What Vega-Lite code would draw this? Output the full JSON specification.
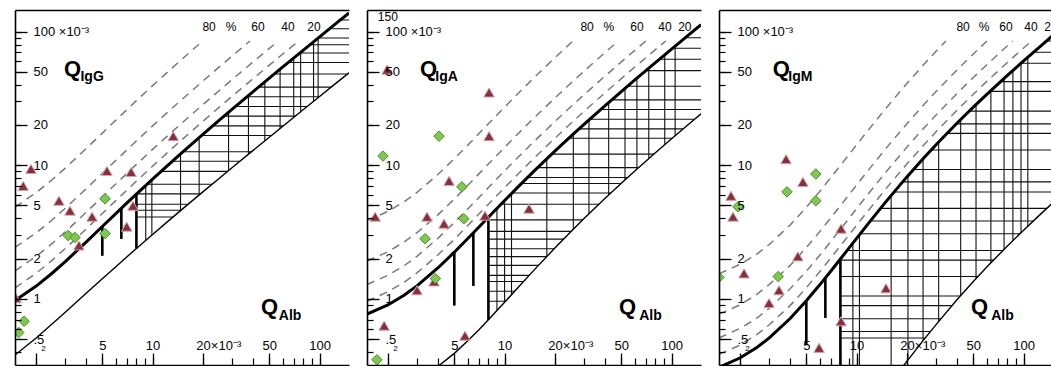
{
"$schema": "https://vega.github.io/schema/vega-lite/v6.json",
"padding": {"left": 14, "top": 10, "right": 0, "bottom": 0},
"spacing": 18,
"bounds": "flush",
"config": {"view": {"stroke": null}, "text": {"font": "Liberation Sans"}},
"datasets": {
"curves": [
{"p":"G","q":1.5,"U":0.971,"L":0.38},{"p":"G","q":2,"U":1.241,"L":0.508},{"p":"G","q":2.5,"U":1.555,"L":0.648},{"p":"G","q":3,"U":1.902,"L":0.794},{"p":"G","q":4,"U":2.662,"L":1.1},{"p":"G","q":5,"U":3.478,"L":1.415},{"p":"G","q":6,"U":4.327,"L":1.734},{"p":"G","q":7,"U":5.197,"L":2.057},{"p":"G","q":8,"U":6.081,"L":2.381},{"p":"G","q":10,"U":7.875,"L":3.033},{"p":"G","q":12,"U":9.69,"L":3.687},{"p":"G","q":15,"U":12.435,"L":4.672},{"p":"G","q":20,"U":17.039,"L":6.317},{"p":"G","q":25,"U":21.661,"L":7.963},{"p":"G","q":30,"U":26.293,"L":9.611},{"p":"G","q":40,"U":35.57,"L":12.908},{"p":"G","q":50,"U":44.856,"L":16.207},{"p":"G","q":60,"U":54.147,"L":19.505},{"p":"G","q":80,"U":72.735,"L":26.104},{"p":"G","q":100,"U":91.33,"L":32.703},{"p":"G","q":125,"U":114.57,"L":40.953},{"p":"G","q":150,"U":137.82,"L":49.202},
{"p":"A","q":1.5,"U":0.769,"L":0.184},{"p":"A","q":2,"U":0.901,"L":0.201},{"p":"A","q":2.5,"U":1.064,"L":0.223},{"p":"A","q":3,"U":1.256,"L":0.249},{"p":"A","q":4,"U":1.709,"L":0.313},{"p":"A","q":5,"U":2.235,"L":0.391},{"p":"A","q":6,"U":2.814,"L":0.483},{"p":"A","q":7,"U":3.434,"L":0.585},{"p":"A","q":8,"U":4.082,"L":0.697},{"p":"A","q":10,"U":5.44,"L":0.942},{"p":"A","q":12,"U":6.851,"L":1.21},{"p":"A","q":15,"U":9.026,"L":1.64},{"p":"A","q":20,"U":12.737,"L":2.401},{"p":"A","q":25,"U":16.501,"L":3.195},{"p":"A","q":30,"U":20.293,"L":4.006},{"p":"A","q":40,"U":27.921,"L":5.655},{"p":"A","q":50,"U":35.577,"L":7.325},{"p":"A","q":60,"U":43.247,"L":9.004},{"p":"A","q":80,"U":58.611,"L":12.378},{"p":"A","q":100,"U":73.989,"L":15.763},{"p":"A","q":125,"U":93.221,"L":20.0},{"p":"A","q":150,"U":112.459,"L":24.242},
{"p":"M","q":1.5,"U":0.308,"L":0.023},{"p":"M","q":2,"U":0.361,"L":0.025},{"p":"M","q":2.5,"U":0.428,"L":0.027},{"p":"M","q":3,"U":0.51,"L":0.03},{"p":"M","q":4,"U":0.713,"L":0.036},{"p":"M","q":5,"U":0.968,"L":0.044},{"p":"M","q":6,"U":1.268,"L":0.055},{"p":"M","q":7,"U":1.61,"L":0.066},{"p":"M","q":8,"U":1.988,"L":0.08},{"p":"M","q":10,"U":2.838,"L":0.111},{"p":"M","q":12,"U":3.786,"L":0.148},{"p":"M","q":15,"U":5.345,"L":0.213},{"p":"M","q":20,"U":8.178,"L":0.341},{"p":"M","q":25,"U":11.187,"L":0.487},{"p":"M","q":30,"U":14.298,"L":0.645},{"p":"M","q":40,"U":20.687,"L":0.988},{"p":"M","q":50,"U":27.195,"L":1.35},{"p":"M","q":60,"U":33.765,"L":1.723},{"p":"M","q":80,"U":47.0,"L":2.489},{"p":"M","q":100,"U":60.301,"L":3.267},{"p":"M","q":125,"U":76.971,"L":4.25},{"p":"M","q":150,"U":93.667,"L":5.239}
],
"dashes": [
{"p":"G","pct":80,"q":1.5,"Q":4.86},{"p":"G","pct":80,"q":2,"Q":6.21},{"p":"G","pct":80,"q":2.5,"Q":7.78},{"p":"G","pct":80,"q":3,"Q":9.51},{"p":"G","pct":80,"q":4,"Q":13.31},{"p":"G","pct":80,"q":5,"Q":17.39},{"p":"G","pct":80,"q":6,"Q":21.64},{"p":"G","pct":80,"q":8,"Q":30.41},{"p":"G","pct":80,"q":10,"Q":39.38},{"p":"G","pct":80,"q":12,"Q":48.45},{"p":"G","pct":80,"q":15,"Q":62.18},{"p":"G","pct":80,"q":20,"Q":85.2},
{"p":"G","pct":60,"q":1.5,"Q":2.43},{"p":"G","pct":60,"q":2,"Q":3.1},{"p":"G","pct":60,"q":2.5,"Q":3.89},{"p":"G","pct":60,"q":3,"Q":4.76},{"p":"G","pct":60,"q":4,"Q":6.66},{"p":"G","pct":60,"q":5,"Q":8.7},{"p":"G","pct":60,"q":6,"Q":10.82},{"p":"G","pct":60,"q":8,"Q":15.2},{"p":"G","pct":60,"q":10,"Q":19.69},{"p":"G","pct":60,"q":12,"Q":24.23},{"p":"G","pct":60,"q":15,"Q":31.09},{"p":"G","pct":60,"q":20,"Q":42.6},{"p":"G","pct":60,"q":25,"Q":54.15},{"p":"G","pct":60,"q":30,"Q":65.73},{"p":"G","pct":60,"q":38.3,"Q":85},
{"p":"G","pct":40,"q":1.5,"Q":1.62},{"p":"G","pct":40,"q":2,"Q":2.07},{"p":"G","pct":40,"q":2.5,"Q":2.59},{"p":"G","pct":40,"q":3,"Q":3.17},{"p":"G","pct":40,"q":4,"Q":4.44},{"p":"G","pct":40,"q":5,"Q":5.8},{"p":"G","pct":40,"q":6,"Q":7.21},{"p":"G","pct":40,"q":8,"Q":10.14},{"p":"G","pct":40,"q":10,"Q":13.13},{"p":"G","pct":40,"q":12,"Q":16.15},{"p":"G","pct":40,"q":15,"Q":20.73},{"p":"G","pct":40,"q":20,"Q":28.4},{"p":"G","pct":40,"q":25,"Q":36.1},{"p":"G","pct":40,"q":30,"Q":43.82},{"p":"G","pct":40,"q":40,"Q":59.28},{"p":"G","pct":40,"q":50,"Q":74.76},{"p":"G","pct":40,"q":56.6,"Q":85},
{"p":"G","pct":20,"q":1.5,"Q":1.21},{"p":"G","pct":20,"q":2,"Q":1.55},{"p":"G","pct":20,"q":2.5,"Q":1.94},{"p":"G","pct":20,"q":3,"Q":2.38},{"p":"G","pct":20,"q":4,"Q":3.33},{"p":"G","pct":20,"q":5,"Q":4.35},{"p":"G","pct":20,"q":6,"Q":5.41},{"p":"G","pct":20,"q":8,"Q":7.6},{"p":"G","pct":20,"q":10,"Q":9.84},{"p":"G","pct":20,"q":12,"Q":12.11},{"p":"G","pct":20,"q":15,"Q":15.54},{"p":"G","pct":20,"q":20,"Q":21.3},{"p":"G","pct":20,"q":25,"Q":27.08},{"p":"G","pct":20,"q":30,"Q":32.87},{"p":"G","pct":20,"q":40,"Q":44.46},{"p":"G","pct":20,"q":50,"Q":56.07},{"p":"G","pct":20,"q":60,"Q":67.68},{"p":"G","pct":20,"q":75,"Q":85.1},
{"p":"A","pct":80,"q":1.5,"Q":3.85},{"p":"A","pct":80,"q":2,"Q":4.51},{"p":"A","pct":80,"q":2.5,"Q":5.32},{"p":"A","pct":80,"q":3,"Q":6.28},{"p":"A","pct":80,"q":4,"Q":8.55},{"p":"A","pct":80,"q":5,"Q":11.18},{"p":"A","pct":80,"q":6,"Q":14.07},{"p":"A","pct":80,"q":8,"Q":20.41},{"p":"A","pct":80,"q":10,"Q":27.2},{"p":"A","pct":80,"q":12,"Q":34.26},{"p":"A","pct":80,"q":15,"Q":45.13},{"p":"A","pct":80,"q":20,"Q":63.69},{"p":"A","pct":80,"q":25.66,"Q":85},
{"p":"A","pct":60,"q":1.5,"Q":1.92},{"p":"A","pct":60,"q":2,"Q":2.25},{"p":"A","pct":60,"q":2.5,"Q":2.66},{"p":"A","pct":60,"q":3,"Q":3.14},{"p":"A","pct":60,"q":4,"Q":4.27},{"p":"A","pct":60,"q":5,"Q":5.59},{"p":"A","pct":60,"q":6,"Q":7.04},{"p":"A","pct":60,"q":8,"Q":10.21},{"p":"A","pct":60,"q":10,"Q":13.6},{"p":"A","pct":60,"q":12,"Q":17.13},{"p":"A","pct":60,"q":15,"Q":22.57},{"p":"A","pct":60,"q":20,"Q":31.84},{"p":"A","pct":60,"q":25,"Q":41.25},{"p":"A","pct":60,"q":30,"Q":50.73},{"p":"A","pct":60,"q":40,"Q":69.8},{"p":"A","pct":60,"q":47.94,"Q":85},
{"p":"A","pct":40,"q":1.5,"Q":1.28},{"p":"A","pct":40,"q":2,"Q":1.5},{"p":"A","pct":40,"q":2.5,"Q":1.77},{"p":"A","pct":40,"q":3,"Q":2.09},{"p":"A","pct":40,"q":4,"Q":2.85},{"p":"A","pct":40,"q":5,"Q":3.73},{"p":"A","pct":40,"q":6,"Q":4.69},{"p":"A","pct":40,"q":8,"Q":6.8},{"p":"A","pct":40,"q":10,"Q":9.07},{"p":"A","pct":40,"q":12,"Q":11.42},{"p":"A","pct":40,"q":15,"Q":15.04},{"p":"A","pct":40,"q":20,"Q":21.23},{"p":"A","pct":40,"q":25,"Q":27.5},{"p":"A","pct":40,"q":30,"Q":33.82},{"p":"A","pct":40,"q":40,"Q":46.54},{"p":"A","pct":40,"q":50,"Q":59.3},{"p":"A","pct":40,"q":60,"Q":72.08},{"p":"A","pct":40,"q":70.1,"Q":85},
{"p":"A","pct":20,"q":1.5,"Q":0.96},{"p":"A","pct":20,"q":2,"Q":1.13},{"p":"A","pct":20,"q":2.5,"Q":1.33},{"p":"A","pct":20,"q":3,"Q":1.57},{"p":"A","pct":20,"q":4,"Q":2.14},{"p":"A","pct":20,"q":5,"Q":2.79},{"p":"A","pct":20,"q":6,"Q":3.52},{"p":"A","pct":20,"q":8,"Q":5.1},{"p":"A","pct":20,"q":10,"Q":6.8},{"p":"A","pct":20,"q":12,"Q":8.56},{"p":"A","pct":20,"q":15,"Q":11.28},{"p":"A","pct":20,"q":20,"Q":15.92},{"p":"A","pct":20,"q":25,"Q":20.63},{"p":"A","pct":20,"q":30,"Q":25.37},{"p":"A","pct":20,"q":40,"Q":34.9},{"p":"A","pct":20,"q":50,"Q":44.47},{"p":"A","pct":20,"q":60,"Q":54.06},{"p":"A","pct":20,"q":80,"Q":73.26},{"p":"A","pct":20,"q":92.2,"Q":85},
{"p":"M","pct":80,"q":1.5,"Q":1.54},{"p":"M","pct":80,"q":2,"Q":1.81},{"p":"M","pct":80,"q":2.5,"Q":2.14},{"p":"M","pct":80,"q":3,"Q":2.55},{"p":"M","pct":80,"q":4,"Q":3.57},{"p":"M","pct":80,"q":5,"Q":4.84},{"p":"M","pct":80,"q":6,"Q":6.34},{"p":"M","pct":80,"q":8,"Q":9.94},{"p":"M","pct":80,"q":10,"Q":14.19},{"p":"M","pct":80,"q":12,"Q":18.93},{"p":"M","pct":80,"q":15,"Q":26.73},{"p":"M","pct":80,"q":20,"Q":40.89},{"p":"M","pct":80,"q":25,"Q":55.94},{"p":"M","pct":80,"q":30,"Q":71.49},{"p":"M","pct":80,"q":34.26,"Q":85},
{"p":"M","pct":60,"q":1.5,"Q":0.77},{"p":"M","pct":60,"q":2,"Q":0.9},{"p":"M","pct":60,"q":2.5,"Q":1.07},{"p":"M","pct":60,"q":3,"Q":1.28},{"p":"M","pct":60,"q":4,"Q":1.78},{"p":"M","pct":60,"q":5,"Q":2.42},{"p":"M","pct":60,"q":6,"Q":3.17},{"p":"M","pct":60,"q":8,"Q":4.97},{"p":"M","pct":60,"q":10,"Q":7.1},{"p":"M","pct":60,"q":12,"Q":9.47},{"p":"M","pct":60,"q":15,"Q":13.36},{"p":"M","pct":60,"q":20,"Q":20.45},{"p":"M","pct":60,"q":25,"Q":27.97},{"p":"M","pct":60,"q":30,"Q":35.75},{"p":"M","pct":60,"q":40,"Q":51.72},{"p":"M","pct":60,"q":50,"Q":67.99},{"p":"M","pct":60,"q":60.36,"Q":85},
{"p":"M","pct":40,"q":1.5,"Q":0.51},{"p":"M","pct":40,"q":2,"Q":0.6},{"p":"M","pct":40,"q":2.5,"Q":0.71},{"p":"M","pct":40,"q":3,"Q":0.85},{"p":"M","pct":40,"q":4,"Q":1.19},{"p":"M","pct":40,"q":5,"Q":1.61},{"p":"M","pct":40,"q":6,"Q":2.11},{"p":"M","pct":40,"q":8,"Q":3.31},{"p":"M","pct":40,"q":10,"Q":4.73},{"p":"M","pct":40,"q":12,"Q":6.31},{"p":"M","pct":40,"q":15,"Q":8.91},{"p":"M","pct":40,"q":20,"Q":13.63},{"p":"M","pct":40,"q":25,"Q":18.65},{"p":"M","pct":40,"q":30,"Q":23.83},{"p":"M","pct":40,"q":40,"Q":34.48},{"p":"M","pct":40,"q":50,"Q":45.33},{"p":"M","pct":40,"q":60,"Q":56.28},{"p":"M","pct":40,"q":80,"Q":78.33},{"p":"M","pct":40,"q":86.02,"Q":85},
{"p":"M","pct":20,"q":1.5,"Q":0.385},{"p":"M","pct":20,"q":2,"Q":0.45},{"p":"M","pct":20,"q":2.5,"Q":0.535},{"p":"M","pct":20,"q":3,"Q":0.64},{"p":"M","pct":20,"q":4,"Q":0.89},{"p":"M","pct":20,"q":5,"Q":1.21},{"p":"M","pct":20,"q":6,"Q":1.59},{"p":"M","pct":20,"q":8,"Q":2.49},{"p":"M","pct":20,"q":10,"Q":3.55},{"p":"M","pct":20,"q":12,"Q":4.73},{"p":"M","pct":20,"q":15,"Q":6.68},{"p":"M","pct":20,"q":20,"Q":10.22},{"p":"M","pct":20,"q":25,"Q":13.98},{"p":"M","pct":20,"q":30,"Q":17.87},{"p":"M","pct":20,"q":40,"Q":25.86},{"p":"M","pct":20,"q":50,"Q":33.99},{"p":"M","pct":20,"q":60,"Q":42.21},{"p":"M","pct":20,"q":80,"Q":58.75},{"p":"M","pct":20,"q":100,"Q":75.38},{"p":"M","pct":20,"q":111.55,"Q":85}
],
"hatchV": [
{"p":"G","q":9.1},{"p":"G","q":9.9},{"p":"G","q":14.7},{"p":"G","q":19},{"p":"G","q":28.5},{"p":"G","q":37.5},{"p":"G","q":47},{"p":"G","q":58},{"p":"G","q":70},{"p":"G","q":77},{"p":"G","q":92},{"p":"G","q":98},
{"p":"A","q":9.0},{"p":"A","q":10.0},{"p":"A","q":11.0},{"p":"A","q":17.9},{"p":"A","q":25.8},{"p":"A","q":32},{"p":"A","q":42},{"p":"A","q":52.6},{"p":"A","q":62},{"p":"A","q":73},{"p":"A","q":91},{"p":"A","q":105},
{"p":"M","q":9.5},{"p":"M","q":10.4},{"p":"M","q":16.1},{"p":"M","q":20.3},{"p":"M","q":25},{"p":"M","q":31},{"p":"M","q":42},{"p":"M","q":51.9},{"p":"M","q":63.7},{"p":"M","q":76.4},{"p":"M","q":86.3},{"p":"M","q":96.5},{"p":"M","q":106}
],
"hatchH": [
{"p":"G","Q":4.1},{"p":"G","Q":4.6},{"p":"G","Q":5.1},{"p":"G","Q":6.1},{"p":"G","Q":7.2},{"p":"G","Q":9.0},{"p":"G","Q":10.7},{"p":"G","Q":12.6},{"p":"G","Q":16.7},{"p":"G","Q":19.7},{"p":"G","Q":23.3},{"p":"G","Q":27.5},{"p":"G","Q":32.5},{"p":"G","Q":38.4},{"p":"G","Q":48.1},{"p":"G","Q":58.7},{"p":"G","Q":69.2},{"p":"G","Q":79.7},{"p":"G","Q":89.5},{"p":"G","Q":105},{"p":"G","Q":122},
{"p":"A","Q":0.96},{"p":"A","Q":1.14},{"p":"A","Q":1.35},{"p":"A","Q":1.5},{"p":"A","Q":1.78},{"p":"A","Q":2.07},{"p":"A","Q":2.37},{"p":"A","Q":2.8},{"p":"A","Q":3.2},{"p":"A","Q":3.9},{"p":"A","Q":5.1},{"p":"A","Q":6.2},{"p":"A","Q":7.3},{"p":"A","Q":8.1},{"p":"A","Q":9.6},{"p":"A","Q":12.1},{"p":"A","Q":15.9},{"p":"A","Q":18.7},{"p":"A","Q":22.1},{"p":"A","Q":26.1},{"p":"A","Q":30.8},{"p":"A","Q":39},{"p":"A","Q":51},{"p":"A","Q":62},{"p":"A","Q":75},{"p":"A","Q":90},
{"p":"M","Q":0.51},{"p":"M","Q":0.57},{"p":"M","Q":0.71},{"p":"M","Q":0.89},{"p":"M","Q":1.05},{"p":"M","Q":1.47},{"p":"M","Q":1.95},{"p":"M","Q":2.3},{"p":"M","Q":3.07},{"p":"M","Q":3.82},{"p":"M","Q":4.75},{"p":"M","Q":6.3},{"p":"M","Q":7.5},{"p":"M","Q":9.3},{"p":"M","Q":13.0},{"p":"M","Q":17.3},{"p":"M","Q":20.4},{"p":"M","Q":25.4},{"p":"M","Q":35.7},{"p":"M","Q":42.2},{"p":"M","Q":58},{"p":"M","Q":70},{"p":"M","Q":85}
],
"bars": [
{"p":"G","q":5,"top":3.48,"bot":2.1},{"p":"G","q":6.5,"top":4.76,"bot":2.81},{"p":"G","q":8,"top":6.08,"bot":2.38},
{"p":"A","q":5,"top":2.235,"bot":0.89},{"p":"A","q":6.5,"top":3.12,"bot":1.25},{"p":"A","q":8,"top":4.08,"bot":0.697},
{"p":"M","q":5,"top":0.968,"bot":0.45},{"p":"M","q":6.5,"top":1.434,"bot":0.72},{"p":"M","q":8,"top":1.99,"bot":0.2}
],
"points": [
{"p":"G","k":"tri","q":1.87,"Q":9.37},{"p":"G","k":"tri","q":1.68,"Q":7.0},{"p":"G","k":"tri","q":5.33,"Q":9.06},{"p":"G","k":"tri","q":7.43,"Q":8.9},{"p":"G","k":"tri","q":2.75,"Q":5.42},{"p":"G","k":"tri","q":3.2,"Q":4.57},{"p":"G","k":"tri","q":4.34,"Q":4.12},{"p":"G","k":"tri","q":7.63,"Q":4.97},{"p":"G","k":"tri","q":7.0,"Q":3.47},{"p":"G","k":"tri","q":3.62,"Q":2.51},{"p":"G","k":"tri","q":13.3,"Q":16.5},{"p":"G","k":"tri","q":1.52,"Q":1.01},
{"p":"G","k":"dia","q":5.19,"Q":5.61},{"p":"G","k":"dia","q":3.12,"Q":2.98},{"p":"G","k":"dia","q":3.43,"Q":2.88},{"p":"G","k":"dia","q":5.19,"Q":3.08},{"p":"G","k":"dia","q":1.7,"Q":0.68},{"p":"G","k":"dia","q":1.58,"Q":0.56},
{"p":"A","k":"tri","q":1.98,"Q":51.9},{"p":"A","k":"tri","q":8.07,"Q":35.0},{"p":"A","k":"tri","q":8.07,"Q":16.5},{"p":"A","k":"tri","q":4.65,"Q":7.63},{"p":"A","k":"tri","q":3.43,"Q":4.12},{"p":"A","k":"tri","q":4.34,"Q":3.65},{"p":"A","k":"tri","q":7.63,"Q":4.19},{"p":"A","k":"tri","q":1.68,"Q":4.12},{"p":"A","k":"tri","q":2.99,"Q":1.16},{"p":"A","k":"tri","q":1.9,"Q":0.63},{"p":"A","k":"tri","q":5.79,"Q":0.53},{"p":"A","k":"tri","q":14.0,"Q":4.73},{"p":"A","k":"tri","q":3.78,"Q":1.35},
{"p":"A","k":"dia","q":4.05,"Q":16.5},{"p":"A","k":"dia","q":1.87,"Q":11.7},{"p":"A","k":"dia","q":5.55,"Q":6.89},{"p":"A","k":"dia","q":5.7,"Q":3.98},{"p":"A","k":"dia","q":3.34,"Q":2.82},{"p":"A","k":"dia","q":3.85,"Q":1.42},{"p":"A","k":"dia","q":1.72,"Q":0.35},
{"p":"M","k":"tri","q":3.78,"Q":11.1},{"p":"M","k":"tri","q":4.77,"Q":7.5},{"p":"M","k":"tri","q":1.77,"Q":5.9},{"p":"M","k":"tri","q":1.82,"Q":4.12},{"p":"M","k":"tri","q":8.07,"Q":3.35},{"p":"M","k":"tri","q":4.45,"Q":2.08},{"p":"M","k":"tri","q":2.12,"Q":1.55},{"p":"M","k":"tri","q":3.43,"Q":1.16},{"p":"M","k":"tri","q":2.99,"Q":0.93},{"p":"M","k":"tri","q":8.07,"Q":0.68},{"p":"M","k":"tri","q":5.96,"Q":0.43},{"p":"M","k":"tri","q":15,"Q":1.2},
{"p":"M","k":"dia","q":5.7,"Q":8.6},{"p":"M","k":"dia","q":3.83,"Q":6.32},{"p":"M","k":"dia","q":5.7,"Q":5.42},{"p":"M","k":"dia","q":1.95,"Q":4.89},{"p":"M","k":"dia","q":3.39,"Q":1.47},{"p":"M","k":"dia","q":1.5,"Q":1.45}
],
"texts": [
{"p":"G","r":"big","t":"Q","q":2.95,"Q":46.8},{"p":"G","r":"sub","t":"IgG","q":3.7,"Q":43},{"p":"G","r":"big","t":"Q","q":44.6,"Q":0.77},{"p":"G","r":"sub","t":"Alb","q":57,"Q":0.7},
{"p":"G","r":"pct","t":"80","q":21.8,"Q":108.6},{"p":"G","r":"pct","t":"%","q":29.5,"Q":108.6},{"p":"G","r":"pct","t":"60","q":42.8,"Q":108.6},{"p":"G","r":"pct","t":"40","q":64.7,"Q":108.6},{"p":"G","r":"pct","t":"20","q":92.6,"Q":108.6},
{"p":"A","r":"big","t":"Q","q":3.11,"Q":46.8},{"p":"A","r":"sub","t":"IgA","q":3.85,"Q":43},{"p":"A","r":"big","t":"Q","q":48.5,"Q":0.77},{"p":"A","r":"sub","t":"Alb","q":64,"Q":0.7},
{"p":"A","r":"pct","t":"80","q":31.2,"Q":108.6},{"p":"A","r":"pct","t":"%","q":42.1,"Q":108.6},{"p":"A","r":"pct","t":"60","q":62.1,"Q":108.6},{"p":"A","r":"pct","t":"40","q":91.3,"Q":108.6},{"p":"A","r":"pct","t":"20","q":120,"Q":108.6},
{"p":"A","r":"tick","t":"150","q":2.0,"Q":128},
{"p":"M","r":"big","t":"Q","q":3.15,"Q":46.8},{"p":"M","r":"sub","t":"IgM","q":3.9,"Q":43},{"p":"M","r":"big","t":"Q","q":48.5,"Q":0.77},{"p":"M","r":"sub","t":"Alb","q":64,"Q":0.7},
{"p":"M","r":"pct","t":"80","q":43.4,"Q":108.6},{"p":"M","r":"pct","t":"%","q":57.9,"Q":108.6},{"p":"M","r":"pct","t":"60","q":78.5,"Q":108.6},{"p":"M","r":"pct","t":"40","q":110.7,"Q":108.6},{"p":"M","r":"pct","t":"20","q":146,"Q":108.6}
]
},
"hconcat": [
{"width": 334, "height": 355,
 "resolve": {"axis": {"x": "independent", "y": "independent"}},
 "layer": [
  {"data": {"name": "hatchV"}, "transform": [{"filter": "datum.p == 'G'"}], "mark": {"type": "rule", "clip": true, "color": "#111", "strokeWidth": 1.1},
   "encoding": {"x": {"field": "q", "type": "quantitative", "scale": {"type": "log", "domain": [1.5, 150], "nice": false}, "axis": null}}},
  {"data": {"name": "hatchH"}, "transform": [{"filter": "datum.p == 'G'"}], "mark": {"type": "rule", "clip": true, "color": "#111", "strokeWidth": 1.1},
   "encoding": {"y": {"field": "Q", "type": "quantitative", "scale": {"type": "log", "domain": [0.32, 145], "nice": false}, "axis": null}, "x": {"datum": 8.1, "type": "quantitative", "axis": null}, "x2": {"datum": 150}}},
  {"data": {"name": "curves"}, "transform": [{"filter": "datum.p == 'G' && datum.q >= 7"}], "mark": {"type": "area", "clip": true, "color": "white", "opacity": 1},
   "encoding": {"x": {"field": "q", "type": "quantitative", "axis": null}, "y": {"field": "U", "type": "quantitative", "axis": null}, "y2": {"datum": 1000}}},
  {"data": {"name": "curves"}, "transform": [{"filter": "datum.p == 'G' && datum.q >= 7"}], "mark": {"type": "area", "clip": true, "color": "white", "opacity": 1},
   "encoding": {"x": {"field": "q", "type": "quantitative", "axis": null}, "y": {"field": "L", "type": "quantitative", "axis": null}, "y2": {"datum": 0.01}}},
  {"data": {"name": "dashes"}, "transform": [{"filter": "datum.p == 'G'"}], "mark": {"type": "line", "clip": true, "color": "#7a7a7a", "strokeWidth": 1.5, "strokeDash": [8, 6]},
   "encoding": {"x": {"field": "q", "type": "quantitative", "axis": {"orient": "top", "ticks": false, "labels": false, "domain": true, "domainColor": "#000", "domainWidth": 1.5, "grid": false, "title": null, "zindex": 1}}, "y": {"field": "Q", "type": "quantitative", "axis": null}, "detail": {"field": "pct", "type": "nominal"}, "order": {"field": "q", "type": "quantitative"}}},
  {"data": {"name": "curves"}, "transform": [{"filter": "datum.p == 'G'"}], "mark": {"type": "line", "clip": true, "color": "#000", "strokeWidth": 3},
   "encoding": {"x": {"field": "q", "type": "quantitative", "axis": {"orient": "bottom", "values": [2,3,4,5,6,7,8,9,10,20,30,40,50,60,70,80,90,100], "tickSize": -7, "labels": false, "domain": true, "domainColor": "#000", "domainWidth": 1.6, "tickColor": "#000", "tickWidth": 1.2, "grid": false, "title": null, "zindex": 1}},
    "y": {"field": "U", "type": "quantitative", "axis": {"orient": "left", "values": [0.4,0.5,0.6,0.7,0.8,0.9,1,2,3,4,5,6,7,8,9,10,20,30,40,50,60,70,80,90,100], "tickSize": -6, "labels": false, "domain": true, "domainColor": "#000", "domainWidth": 1.6, "tickColor": "#000", "tickWidth": 1.2, "grid": false, "title": null, "zindex": 1}}}},
  {"data": {"name": "curves"}, "transform": [{"filter": "datum.p == 'G'"}], "mark": {"type": "line", "clip": true, "color": "#000", "strokeWidth": 1.4},
   "encoding": {"x": {"field": "q", "type": "quantitative", "axis": {"orient": "bottom", "values": [2,5,10,20,50,100], "tickSize": -12, "domain": false, "tickColor": "#000", "tickWidth": 1.3, "grid": false, "title": null, "zindex": 1, "labelBaseline": "bottom", "labelPadding": -1, "labelFont": "Liberation Sans", "labelFontSize": {"condition": {"test": "datum.value == 2", "value": 8}, "value": 13}, "labelColor": "#000", "labelFlush": false, "labelOverlap": false, "labelAlign": {"condition": {"test": "datum.value == 20", "value": "left"}, "value": "center"}, "labelOffset": {"condition": [{"test": "datum.value == 20", "value": -7}, {"test": "datum.value == 2", "value": 7}], "value": 0}, "labelExpr": "datum.value == 20 ? '20×10⁻³' : '' + datum.value"}},
    "y": {"field": "L", "type": "quantitative", "axis": {"orient": "left", "values": [0.5,1,2,5,10,20,50,100], "tickSize": -12, "domain": false, "tickColor": "#000", "tickWidth": 1.3, "grid": false, "title": null, "zindex": 1, "labelAlign": "left", "labelBaseline": "middle", "labelPadding": -6, "labelFont": "Liberation Sans", "labelFontSize": 13, "labelColor": "#000", "labelFlush": false, "labelOverlap": false, "labelExpr": "datum.value == 100 ? '100 ×10⁻³' : datum.value == 0.5 ? '.5' : '' + datum.value"}}}},
  {"data": {"name": "bars"}, "transform": [{"filter": "datum.p == 'G'"}], "mark": {"type": "rule", "clip": true, "color": "#000", "strokeWidth": 2.6},
   "encoding": {"x": {"field": "q", "type": "quantitative", "axis": null}, "y": {"field": "top", "type": "quantitative", "axis": null}, "y2": {"field": "bot"}}},
  {"data": {"name": "points"}, "transform": [{"filter": "datum.p == 'G'"}], "mark": {"type": "point", "clip": true, "filled": true, "size": 110, "strokeWidth": 1, "opacity": 1},
   "encoding": {"x": {"field": "q", "type": "quantitative", "axis": null}, "y": {"field": "Q", "type": "quantitative", "axis": null},
    "shape": {"field": "k", "type": "nominal", "scale": {"domain": ["tri", "dia"], "range": ["triangle-up", "diamond"]}, "legend": null},
    "color": {"field": "k", "type": "nominal", "scale": {"domain": ["tri", "dia"], "range": ["#84303f", "#7ec850"]}, "legend": null},
    "stroke": {"field": "k", "type": "nominal", "scale": {"domain": ["tri", "dia"], "range": ["#d9a0aa", "#4e8c2c"]}, "legend": null}}},
  {"data": {"name": "texts"}, "transform": [{"filter": "datum.p == 'G' && datum.r == 'big'"}], "mark": {"type": "text", "clip": true, "font": "Liberation Sans", "fontWeight": "bold", "fontSize": 22, "align": "left", "baseline": "alphabetic", "color": "#000"},
   "encoding": {"x": {"field": "q", "type": "quantitative", "axis": null}, "y": {"field": "Q", "type": "quantitative", "axis": null}, "text": {"field": "t"}}},
  {"data": {"name": "texts"}, "transform": [{"filter": "datum.p == 'G' && datum.r == 'sub'"}], "mark": {"type": "text", "clip": true, "font": "Liberation Sans", "fontWeight": "bold", "fontSize": 14, "align": "left", "baseline": "alphabetic", "color": "#000"},
   "encoding": {"x": {"field": "q", "type": "quantitative", "axis": null}, "y": {"field": "Q", "type": "quantitative", "axis": null}, "text": {"field": "t"}}},
  {"data": {"name": "texts"}, "transform": [{"filter": "datum.p == 'G' && (datum.r == 'pct' || datum.r == 'tick')"}], "mark": {"type": "text", "clip": true, "font": "Liberation Sans", "fontSize": 12, "align": "center", "baseline": "middle", "color": "#000"},
   "encoding": {"x": {"field": "q", "type": "quantitative", "axis": null}, "y": {"field": "Q", "type": "quantitative", "axis": null}, "text": {"field": "t"}}}
 ]},
{"width": 334, "height": 355,
 "resolve": {"axis": {"x": "independent", "y": "independent"}},
 "layer": [
  {"data": {"name": "hatchV"}, "transform": [{"filter": "datum.p == 'A'"}], "mark": {"type": "rule", "clip": true, "color": "#111", "strokeWidth": 1.1},
   "encoding": {"x": {"field": "q", "type": "quantitative", "scale": {"type": "log", "domain": [1.5, 150], "nice": false}, "axis": null}}},
  {"data": {"name": "hatchH"}, "transform": [{"filter": "datum.p == 'A'"}], "mark": {"type": "rule", "clip": true, "color": "#111", "strokeWidth": 1.1},
   "encoding": {"y": {"field": "Q", "type": "quantitative", "scale": {"type": "log", "domain": [0.32, 145], "nice": false}, "axis": null}, "x": {"datum": 8.1, "type": "quantitative", "axis": null}, "x2": {"datum": 150}}},
  {"data": {"name": "curves"}, "transform": [{"filter": "datum.p == 'A' && datum.q >= 7"}], "mark": {"type": "area", "clip": true, "color": "white", "opacity": 1},
   "encoding": {"x": {"field": "q", "type": "quantitative", "axis": null}, "y": {"field": "U", "type": "quantitative", "axis": null}, "y2": {"datum": 1000}}},
  {"data": {"name": "curves"}, "transform": [{"filter": "datum.p == 'A' && datum.q >= 7"}], "mark": {"type": "area", "clip": true, "color": "white", "opacity": 1},
   "encoding": {"x": {"field": "q", "type": "quantitative", "axis": null}, "y": {"field": "L", "type": "quantitative", "axis": null}, "y2": {"datum": 0.01}}},
  {"data": {"name": "dashes"}, "transform": [{"filter": "datum.p == 'A'"}], "mark": {"type": "line", "clip": true, "color": "#7a7a7a", "strokeWidth": 1.5, "strokeDash": [8, 6]},
   "encoding": {"x": {"field": "q", "type": "quantitative", "axis": {"orient": "top", "ticks": false, "labels": false, "domain": true, "domainColor": "#000", "domainWidth": 1.5, "grid": false, "title": null, "zindex": 1}}, "y": {"field": "Q", "type": "quantitative", "axis": null}, "detail": {"field": "pct", "type": "nominal"}, "order": {"field": "q", "type": "quantitative"}}},
  {"data": {"name": "curves"}, "transform": [{"filter": "datum.p == 'A'"}], "mark": {"type": "line", "clip": true, "color": "#000", "strokeWidth": 3},
   "encoding": {"x": {"field": "q", "type": "quantitative", "axis": {"orient": "bottom", "values": [2,3,4,5,6,7,8,9,10,20,30,40,50,60,70,80,90,100], "tickSize": -7, "labels": false, "domain": true, "domainColor": "#000", "domainWidth": 1.6, "tickColor": "#000", "tickWidth": 1.2, "grid": false, "title": null, "zindex": 1}},
    "y": {"field": "U", "type": "quantitative", "axis": {"orient": "left", "values": [0.4,0.5,0.6,0.7,0.8,0.9,1,2,3,4,5,6,7,8,9,10,20,30,40,50,60,70,80,90,100], "tickSize": -6, "labels": false, "domain": true, "domainColor": "#000", "domainWidth": 1.6, "tickColor": "#000", "tickWidth": 1.2, "grid": false, "title": null, "zindex": 1}}}},
  {"data": {"name": "curves"}, "transform": [{"filter": "datum.p == 'A'"}], "mark": {"type": "line", "clip": true, "color": "#000", "strokeWidth": 1.4},
   "encoding": {"x": {"field": "q", "type": "quantitative", "axis": {"orient": "bottom", "values": [2,5,10,20,50,100], "tickSize": -12, "domain": false, "tickColor": "#000", "tickWidth": 1.3, "grid": false, "title": null, "zindex": 1, "labelBaseline": "bottom", "labelPadding": -1, "labelFont": "Liberation Sans", "labelFontSize": {"condition": {"test": "datum.value == 2", "value": 8}, "value": 13}, "labelColor": "#000", "labelFlush": false, "labelOverlap": false, "labelAlign": {"condition": {"test": "datum.value == 20", "value": "left"}, "value": "center"}, "labelOffset": {"condition": [{"test": "datum.value == 20", "value": -7}, {"test": "datum.value == 2", "value": 7}], "value": 0}, "labelExpr": "datum.value == 20 ? '20×10⁻³' : '' + datum.value"}},
    "y": {"field": "L", "type": "quantitative", "axis": {"orient": "left", "values": [0.5,1,2,5,10,20,50,100], "tickSize": -12, "domain": false, "tickColor": "#000", "tickWidth": 1.3, "grid": false, "title": null, "zindex": 1, "labelAlign": "left", "labelBaseline": "middle", "labelPadding": -6, "labelFont": "Liberation Sans", "labelFontSize": 13, "labelColor": "#000", "labelFlush": false, "labelOverlap": false, "labelExpr": "datum.value == 100 ? '100 ×10⁻³' : datum.value == 0.5 ? '.5' : '' + datum.value"}}}},
  {"data": {"name": "bars"}, "transform": [{"filter": "datum.p == 'A'"}], "mark": {"type": "rule", "clip": true, "color": "#000", "strokeWidth": 2.6},
   "encoding": {"x": {"field": "q", "type": "quantitative", "axis": null}, "y": {"field": "top", "type": "quantitative", "axis": null}, "y2": {"field": "bot"}}},
  {"data": {"name": "points"}, "transform": [{"filter": "datum.p == 'A'"}], "mark": {"type": "point", "clip": true, "filled": true, "size": 110, "strokeWidth": 1, "opacity": 1},
   "encoding": {"x": {"field": "q", "type": "quantitative", "axis": null}, "y": {"field": "Q", "type": "quantitative", "axis": null},
    "shape": {"field": "k", "type": "nominal", "scale": {"domain": ["tri", "dia"], "range": ["triangle-up", "diamond"]}, "legend": null},
    "color": {"field": "k", "type": "nominal", "scale": {"domain": ["tri", "dia"], "range": ["#84303f", "#7ec850"]}, "legend": null},
    "stroke": {"field": "k", "type": "nominal", "scale": {"domain": ["tri", "dia"], "range": ["#d9a0aa", "#4e8c2c"]}, "legend": null}}},
  {"data": {"name": "texts"}, "transform": [{"filter": "datum.p == 'A' && datum.r == 'big'"}], "mark": {"type": "text", "clip": true, "font": "Liberation Sans", "fontWeight": "bold", "fontSize": 22, "align": "left", "baseline": "alphabetic", "color": "#000"},
   "encoding": {"x": {"field": "q", "type": "quantitative", "axis": null}, "y": {"field": "Q", "type": "quantitative", "axis": null}, "text": {"field": "t"}}},
  {"data": {"name": "texts"}, "transform": [{"filter": "datum.p == 'A' && datum.r == 'sub'"}], "mark": {"type": "text", "clip": true, "font": "Liberation Sans", "fontWeight": "bold", "fontSize": 14, "align": "left", "baseline": "alphabetic", "color": "#000"},
   "encoding": {"x": {"field": "q", "type": "quantitative", "axis": null}, "y": {"field": "Q", "type": "quantitative", "axis": null}, "text": {"field": "t"}}},
  {"data": {"name": "texts"}, "transform": [{"filter": "datum.p == 'A' && (datum.r == 'pct' || datum.r == 'tick')"}], "mark": {"type": "text", "clip": true, "font": "Liberation Sans", "fontSize": 12, "align": "center", "baseline": "middle", "color": "#000"},
   "encoding": {"x": {"field": "q", "type": "quantitative", "axis": null}, "y": {"field": "Q", "type": "quantitative", "axis": null}, "text": {"field": "t"}}}
 ]},
{"width": 334, "height": 355,
 "resolve": {"axis": {"x": "independent", "y": "independent"}},
 "layer": [
  {"data": {"name": "hatchV"}, "transform": [{"filter": "datum.p == 'M'"}], "mark": {"type": "rule", "clip": true, "color": "#111", "strokeWidth": 1.1},
   "encoding": {"x": {"field": "q", "type": "quantitative", "scale": {"type": "log", "domain": [1.5, 150], "nice": false}, "axis": null}}},
  {"data": {"name": "hatchH"}, "transform": [{"filter": "datum.p == 'M'"}], "mark": {"type": "rule", "clip": true, "color": "#111", "strokeWidth": 1.1},
   "encoding": {"y": {"field": "Q", "type": "quantitative", "scale": {"type": "log", "domain": [0.32, 145], "nice": false}, "axis": null}, "x": {"datum": 8.1, "type": "quantitative", "axis": null}, "x2": {"datum": 150}}},
  {"data": {"name": "curves"}, "transform": [{"filter": "datum.p == 'M' && datum.q >= 7"}], "mark": {"type": "area", "clip": true, "color": "white", "opacity": 1},
   "encoding": {"x": {"field": "q", "type": "quantitative", "axis": null}, "y": {"field": "U", "type": "quantitative", "axis": null}, "y2": {"datum": 1000}}},
  {"data": {"name": "curves"}, "transform": [{"filter": "datum.p == 'M' && datum.q >= 7"}], "mark": {"type": "area", "clip": true, "color": "white", "opacity": 1},
   "encoding": {"x": {"field": "q", "type": "quantitative", "axis": null}, "y": {"field": "L", "type": "quantitative", "axis": null}, "y2": {"datum": 0.01}}},
  {"data": {"name": "dashes"}, "transform": [{"filter": "datum.p == 'M'"}], "mark": {"type": "line", "clip": true, "color": "#7a7a7a", "strokeWidth": 1.5, "strokeDash": [8, 6]},
   "encoding": {"x": {"field": "q", "type": "quantitative", "axis": {"orient": "top", "ticks": false, "labels": false, "domain": true, "domainColor": "#000", "domainWidth": 1.5, "grid": false, "title": null, "zindex": 1}}, "y": {"field": "Q", "type": "quantitative", "axis": null}, "detail": {"field": "pct", "type": "nominal"}, "order": {"field": "q", "type": "quantitative"}}},
  {"data": {"name": "curves"}, "transform": [{"filter": "datum.p == 'M'"}], "mark": {"type": "line", "clip": true, "color": "#000", "strokeWidth": 3},
   "encoding": {"x": {"field": "q", "type": "quantitative", "axis": {"orient": "bottom", "values": [2,3,4,5,6,7,8,9,10,20,30,40,50,60,70,80,90,100], "tickSize": -7, "labels": false, "domain": true, "domainColor": "#000", "domainWidth": 1.6, "tickColor": "#000", "tickWidth": 1.2, "grid": false, "title": null, "zindex": 1}},
    "y": {"field": "U", "type": "quantitative", "axis": {"orient": "left", "values": [0.4,0.5,0.6,0.7,0.8,0.9,1,2,3,4,5,6,7,8,9,10,20,30,40,50,60,70,80,90,100], "tickSize": -6, "labels": false, "domain": true, "domainColor": "#000", "domainWidth": 1.6, "tickColor": "#000", "tickWidth": 1.2, "grid": false, "title": null, "zindex": 1}}}},
  {"data": {"name": "curves"}, "transform": [{"filter": "datum.p == 'M'"}], "mark": {"type": "line", "clip": true, "color": "#000", "strokeWidth": 1.4},
   "encoding": {"x": {"field": "q", "type": "quantitative", "axis": {"orient": "bottom", "values": [2,5,10,20,50,100], "tickSize": -12, "domain": false, "tickColor": "#000", "tickWidth": 1.3, "grid": false, "title": null, "zindex": 1, "labelBaseline": "bottom", "labelPadding": -1, "labelFont": "Liberation Sans", "labelFontSize": {"condition": {"test": "datum.value == 2", "value": 8}, "value": 13}, "labelColor": "#000", "labelFlush": false, "labelOverlap": false, "labelAlign": {"condition": {"test": "datum.value == 20", "value": "left"}, "value": "center"}, "labelOffset": {"condition": [{"test": "datum.value == 20", "value": -7}, {"test": "datum.value == 2", "value": 7}], "value": 0}, "labelExpr": "datum.value == 20 ? '20×10⁻³' : '' + datum.value"}},
    "y": {"field": "L", "type": "quantitative", "axis": {"orient": "left", "values": [0.5,1,2,5,10,20,50,100], "tickSize": -12, "domain": false, "tickColor": "#000", "tickWidth": 1.3, "grid": false, "title": null, "zindex": 1, "labelAlign": "left", "labelBaseline": "middle", "labelPadding": -6, "labelFont": "Liberation Sans", "labelFontSize": 13, "labelColor": "#000", "labelFlush": false, "labelOverlap": false, "labelExpr": "datum.value == 100 ? '100 ×10⁻³' : datum.value == 0.5 ? '.5' : '' + datum.value"}}}},
  {"data": {"name": "bars"}, "transform": [{"filter": "datum.p == 'M'"}], "mark": {"type": "rule", "clip": true, "color": "#000", "strokeWidth": 2.6},
   "encoding": {"x": {"field": "q", "type": "quantitative", "axis": null}, "y": {"field": "top", "type": "quantitative", "axis": null}, "y2": {"field": "bot"}}},
  {"data": {"name": "points"}, "transform": [{"filter": "datum.p == 'M'"}], "mark": {"type": "point", "clip": true, "filled": true, "size": 110, "strokeWidth": 1, "opacity": 1},
   "encoding": {"x": {"field": "q", "type": "quantitative", "axis": null}, "y": {"field": "Q", "type": "quantitative", "axis": null},
    "shape": {"field": "k", "type": "nominal", "scale": {"domain": ["tri", "dia"], "range": ["triangle-up", "diamond"]}, "legend": null},
    "color": {"field": "k", "type": "nominal", "scale": {"domain": ["tri", "dia"], "range": ["#84303f", "#7ec850"]}, "legend": null},
    "stroke": {"field": "k", "type": "nominal", "scale": {"domain": ["tri", "dia"], "range": ["#d9a0aa", "#4e8c2c"]}, "legend": null}}},
  {"data": {"name": "texts"}, "transform": [{"filter": "datum.p == 'M' && datum.r == 'big'"}], "mark": {"type": "text", "clip": true, "font": "Liberation Sans", "fontWeight": "bold", "fontSize": 22, "align": "left", "baseline": "alphabetic", "color": "#000"},
   "encoding": {"x": {"field": "q", "type": "quantitative", "axis": null}, "y": {"field": "Q", "type": "quantitative", "axis": null}, "text": {"field": "t"}}},
  {"data": {"name": "texts"}, "transform": [{"filter": "datum.p == 'M' && datum.r == 'sub'"}], "mark": {"type": "text", "clip": true, "font": "Liberation Sans", "fontWeight": "bold", "fontSize": 14, "align": "left", "baseline": "alphabetic", "color": "#000"},
   "encoding": {"x": {"field": "q", "type": "quantitative", "axis": null}, "y": {"field": "Q", "type": "quantitative", "axis": null}, "text": {"field": "t"}}},
  {"data": {"name": "texts"}, "transform": [{"filter": "datum.p == 'M' && (datum.r == 'pct' || datum.r == 'tick')"}], "mark": {"type": "text", "clip": true, "font": "Liberation Sans", "fontSize": 12, "align": "center", "baseline": "middle", "color": "#000"},
   "encoding": {"x": {"field": "q", "type": "quantitative", "axis": null}, "y": {"field": "Q", "type": "quantitative", "axis": null}, "text": {"field": "t"}}}
 ]}
]
}
